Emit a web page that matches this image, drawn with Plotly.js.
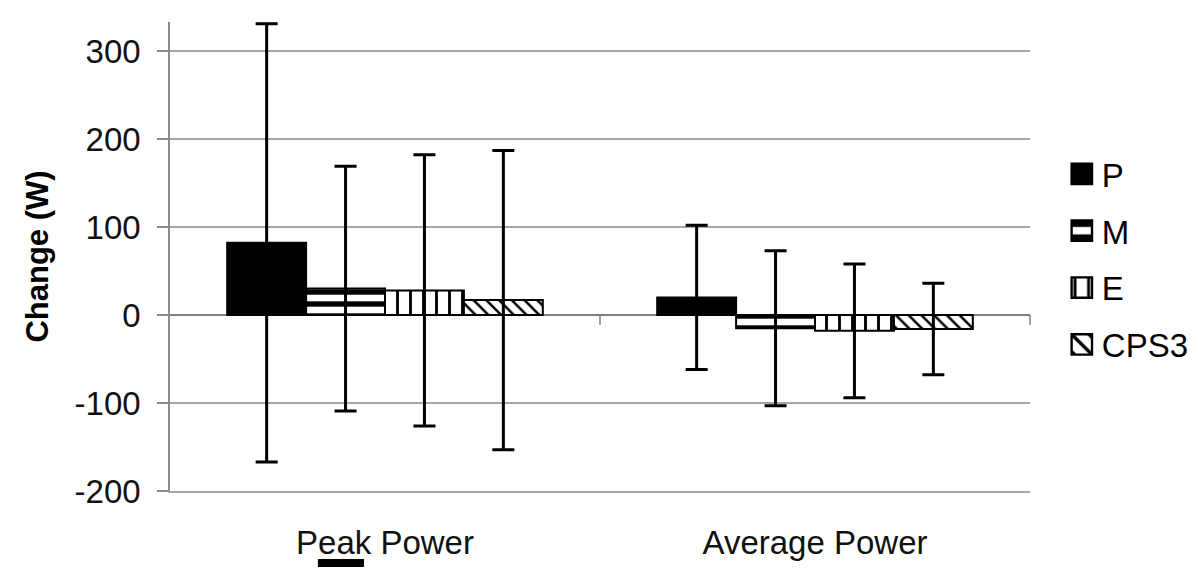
<!DOCTYPE html>
<html>
<head>
<meta charset="utf-8">
<script src="https://cdn.plot.ly/plotly-3.0.1.min.js"></script>
<style>
  html, body { margin: 0; padding: 0; background: #ffffff; }
  #chart { width: 1200px; height: 583px; }
</style>
</head>
<body>
<div id="chart"></div>
<script>
const categories = ['Peak Power', 'Average Power'];
const seriesNames = ['P', 'M', 'E', 'CPS3'];

// mean change (W) per series, in category order
const meanP = [82, 20];
const meanM = [30, -15];
const meanE = [28, -18];
const meanCPS3 = [17, -16];

// error bar half-lengths (W)
const errP = [249, 82];
const errM = [139, 88];
const errE = [154, 76];
const errCPS3 = [170, 52];

const yTicks = [-200, -100, 0, 100, 200, 300];

const patterns = [
  { shape: '', fillmode: 'replace' },
  { shape: '-', size: 12, solidity: 0.45, fgcolor: '#000000', bgcolor: '#ffffff', fillmode: 'replace' },
  { shape: '|', size: 13, solidity: 0.22, fgcolor: '#000000', bgcolor: '#ffffff', fillmode: 'replace' },
  { shape: '\\', size: 9, solidity: 0.28, fgcolor: '#000000', bgcolor: '#ffffff', fillmode: 'replace' },
];

const means = [meanP, meanM, meanE, meanCPS3];
const errs = [errP, errM, errE, errCPS3];

const traces = seriesNames.map((name, i) => ({
  type: 'bar',
  name: name,
  x: categories,
  y: means[i],
  legendgroup: name,
  marker: {
    color: i === 0 ? '#000000' : '#ffffff',
    line: { color: '#000000', width: 2 },
    pattern: patterns[i],
  },
  error_y: {
    type: 'data',
    array: errs[i],
    visible: true,
    color: '#000000',
    thickness: 3,
    width: 11,
  },
  hovertemplate: '%{x}<br>' + name + ': %{y}<extra></extra>',
}));

const font = 'Liberation Sans, Arial, sans-serif';

Plotly.newPlot('chart', traces, {
  width: 1200,
  height: 583,
  barmode: 'group',
  bargap: 0.266,
  bargroupgap: 0,
  margin: { l: 170, r: 170, t: 22, b: 92, autoexpand: false },
  paper_bgcolor: '#ffffff',
  plot_bgcolor: '#ffffff',
  font: { family: font, color: '#000000', size: 33 },
  xaxis: {
    type: 'category',
    showgrid: false,
    showline: true,
    linecolor: '#a6a6a6',
    linewidth: 1.5,
    ticks: '',
    ticklabelstandoff: 22,
    tickfont: { family: font, size: 33, color: '#111111' },
  },
  yaxis: {
    range: [-200, 333],
    tickvals: yTicks,
    ticktext: yTicks.map(String),
    showgrid: true,
    gridcolor: '#a6a6a6',
    gridwidth: 1.5,
    zeroline: true,
    zerolinecolor: '#808080',
    zerolinewidth: 1.5,
    showline: true,
    linecolor: '#8c8c8c',
    linewidth: 1.5,
    ticks: 'outside',
    ticklen: 11,
    tickcolor: '#8c8c8c',
    tickwidth: 1.5,
    ticklabelstandoff: 10,
    tickfont: { family: font, size: 33, color: '#111111' },
    title: {
      text: 'Change (W)',
      font: { family: font, size: 31, color: '#000000', weight: 'bold' },
      standoff: 17,
    },
  },
  legend: {
    x: 1.037,
    xanchor: 'left',
    y: 0.736,
    yanchor: 'top',
    traceorder: 'grouped',
    tracegroupgap: 11,
    font: { family: font, size: 33, color: '#000000' },
    bgcolor: 'rgba(0,0,0,0)',
  },
  shapes: [
    { type: 'line', xref: 'paper', yref: 'y', x0: 0.5, x1: 0.5, y0: 0, y1: -11, line: { color: '#808080', width: 1.5 } },
    { type: 'line', xref: 'paper', yref: 'y', x0: 1, x1: 1, y0: 0, y1: -11, line: { color: '#808080', width: 1.5 } },
    { type: 'rect', xref: 'paper', yref: 'paper', x0: 0.172, x1: 0.2256, y0: -0.145, y1: -0.162, fillcolor: '#000000', line: { width: 0 } },
  ],
  showlegend: true,
}, { displayModeBar: false }).then(() => {
  // the legend swatches are larger in the original figure
  document.querySelectorAll('#chart .legendpoints path').forEach(p => {
    const t = p.getAttribute('transform') || '';
    p.setAttribute('transform', t + ' scale(1.7)');
    p.style.strokeWidth = '1.4px';
  });
});
</script>
</body>
</html>
